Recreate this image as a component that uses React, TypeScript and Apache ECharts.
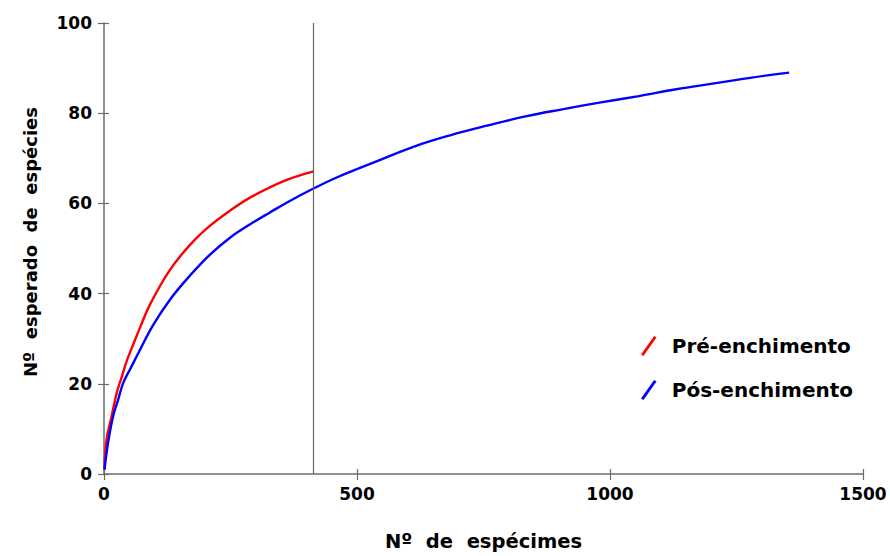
import React, { useEffect, useRef } from "react";
import * as echarts from "echarts";

const preX = [1, 5, 15, 25, 35, 45, 58, 71, 91, 130, 170, 209, 249, 292, 354, 414];
const preY = [1, 7.6, 12.8, 17.9, 21.5, 25.1, 28.8, 32.4, 37.6, 45.2, 50.8, 55.0, 58.4, 61.5, 64.9, 67.1];

const posX = [1, 8, 18, 28, 38, 51, 71, 97, 130, 170, 209, 249, 288, 328, 368, 414, 461, 536, 610, 684, 759, 833, 908, 982, 1057, 1131, 1206, 1280, 1354];
const posY = [1, 6.9, 12.8, 16.5, 20.2, 23.1, 27.5, 33.0, 38.6, 44.0, 48.6, 52.4, 55.3, 58.0, 60.6, 63.3, 65.8, 69.2, 72.5, 75.1, 77.3, 79.3, 80.9, 82.4, 83.8, 85.3, 86.6, 87.9, 89.0];

const seriesNames = ["Pré-enchimento", "Pós-enchimento"];
const cutoffX = 414;
const xTitle = "Nº  de  espécimes";
const yTitle = "Nº  esperado  de  espécies";

const FONT = "DejaVu Sans";
const AXIS_COLOR = "#6b6b6b";

export default function App() {
  const ref = useRef<HTMLDivElement>(null);
  useEffect(() => {
    if (!ref.current) return;
    const chart = echarts.init(ref.current, null, { renderer: "svg" });
    const icon = "path://M0,19 L13.5,0 L16,1.6 L2.5,20.6 Z";
    const labelStyle = { color: "#000", fontFamily: FONT, fontWeight: "bold" as const, fontSize: 17 };
    chart.setOption({
      animation: false,
      backgroundColor: "#fff",
      grid: { left: 104, right: 27, top: 23, bottom: 78, containLabel: false },
      legend: {
        data: seriesNames.map((n) => ({ name: n, icon })),
        orient: "vertical",
        left: 636,
        top: 331,
        itemWidth: 16,
        itemHeight: 20,
        itemGap: 24,
        textStyle: { color: "#000", fontFamily: FONT, fontWeight: "bold", fontSize: 20, padding: [0, 0, 0, 10] },
      },
      graphic: [
        {
          type: "text",
          x: 30,
          y: 242,
          rotation: Math.PI / 2,
          style: {
            text: yTitle,
            fill: "#000",
            font: `bold 18px "${FONT}"`,
            textAlign: "center",
            textVerticalAlign: "middle",
          },
        },
      ],
      xAxis: [
        {
          type: "value",
          position: "bottom",
          min: 0,
          max: 1500,
          interval: 500,
          splitLine: { show: false },
          axisLine: { show: true, lineStyle: { color: AXIS_COLOR, width: 1.5 } },
          axisTick: { show: true, length: 6, lineStyle: { color: AXIS_COLOR, width: 1.2 } },
          axisLabel: { ...labelStyle, margin: 11, formatter: (v: number) => String(v) },
          name: xTitle,
          nameLocation: "middle",
          nameGap: 57,
          nameTextStyle: { color: "#000", fontFamily: FONT, fontWeight: "bold", fontSize: 19.5 },
        },
        {
          type: "value",
          position: "bottom",
          min: 0,
          max: 1500,
          interval: 500,
          splitLine: { show: false },
          axisLine: { show: false },
          axisTick: { show: true, inside: true, length: 5, lineStyle: { color: AXIS_COLOR, width: 1.2 } },
          axisLabel: { show: false },
        },
      ],
      yAxis: [
        {
          type: "value",
          position: "left",
          min: 0,
          max: 100,
          interval: 20,
          splitLine: { show: false },
          axisLine: { show: true, lineStyle: { color: AXIS_COLOR, width: 1.5 } },
          axisTick: { show: true, length: 6, lineStyle: { color: AXIS_COLOR, width: 1.2 } },
          axisLabel: { ...labelStyle, margin: 12 },
        },
        {
          type: "value",
          position: "left",
          min: 0,
          max: 100,
          interval: 20,
          splitLine: { show: false },
          axisLine: { show: false },
          axisTick: { show: true, inside: true, length: 5, lineStyle: { color: AXIS_COLOR, width: 1.2 } },
          axisLabel: { show: false },
        },
      ],
      series: [
        {
          name: seriesNames[0],
          type: "line",
          data: preX.map((x, i) => [x, preY[i]]),
          showSymbol: false,
          symbol: "none",
          smooth: 0.4,
          color: "#ff0000",
          lineStyle: { color: "#ff0000", width: 2.4 },
          z: 3,
          markLine: {
            silent: true,
            symbol: "none",
            label: { show: false },
            lineStyle: { color: "#666", width: 1.2, type: "solid" },
            data: [{ xAxis: cutoffX }],
          },
        },
        {
          name: seriesNames[1],
          type: "line",
          data: posX.map((x, i) => [x, posY[i]]),
          showSymbol: false,
          symbol: "none",
          smooth: 0.4,
          color: "#0000ff",
          lineStyle: { color: "#0000ff", width: 2.4 },
          z: 3,
        },
      ],
    });
    return () => chart.dispose();
  }, []);
  return <div ref={ref} style={{ position: "fixed", left: 0, top: 0, width: 890, height: 556 }} />;
}
